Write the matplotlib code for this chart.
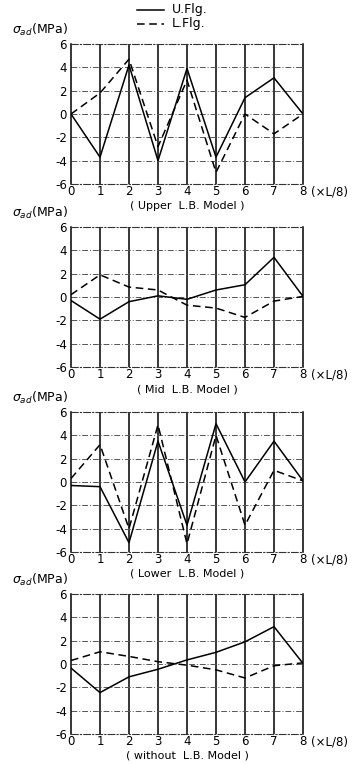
import matplotlib
matplotlib.use("Agg")
import matplotlib.pyplot as plt

x = [0, 1, 2, 3, 4, 5, 6, 7, 8]
x_ticklabels = ["0", "1", "2", "3", "4", "5", "6", "7", "8"]
y_ticks = [-6, -4, -2, 0, 2, 4, 6]
titles = ["( Upper  L.B. Model )", "( Mid  L.B. Model )",
          "( Lower  L.B. Model )", "( without  L.B. Model )"]

upper_u = [0, -3.7, 4.2, -4.0, 3.9, -3.7, 1.4, 3.1, 0.0]
upper_l = [0, 1.8, 4.7, -2.8, 2.9, -5.0, 0.0, -1.7, 0.0]

mid_u = [-0.3, -1.9, -0.4, 0.1, -0.2, 0.6, 1.05, 3.4, 0.05]
mid_l = [0.2, 1.9, 0.85, 0.6, -0.7, -0.95, -1.75, -0.35, 0.05]

lower_u = [-0.3, -0.4, -5.2, 3.5, -3.7, 5.0, 0.0, 3.5, 0.1]
lower_l = [0.3, 3.2, -4.0, 4.9, -5.3, 4.0, -3.7, 1.0, 0.1]

without_u = [-0.35, -2.45, -1.1, -0.45, 0.35, 1.0, 1.9, 3.2, 0.05]
without_l = [0.3, 1.05, 0.65, 0.2, -0.1, -0.5, -1.2, -0.15, 0.1]

series = [(upper_u, upper_l), (mid_u, mid_l), (lower_u, lower_l), (without_u, without_l)]

W, H = 358, 764
plt.rcParams['font.family'] = ['DejaVu Sans']
fig = plt.figure(figsize=(W / 100, H / 100), dpi=100)

tops = [44, 227, 412, 594]
sub_offsets = [162, 162, 162, 162]
left_px, width_px, height_px = 71, 232, 140
fs = 8.5
dashdot = (0, (6, 2, 1, 2))

for top, (u, l), title, so in zip(tops, series, titles, sub_offsets):
    ax = fig.add_axes([left_px / W, 1 - (top + height_px) / H, width_px / W, height_px / H])
    ax.set_xlim(0, 8)
    ax.set_ylim(-6, 6)
    for xv in x[1:-1]:
        ax.axvline(xv, color='black', lw=1.1, zorder=1)
    for yv in y_ticks[1:-1]:
        ax.axhline(yv, color='#555555', lw=0.7, ls=dashdot, zorder=1)
    ax.plot(x, u, color='black', lw=1.1, zorder=3)
    ax.plot(x, l, color='black', lw=1.1, ls=(0, (5, 3)), zorder=3)
    for side in ['top', 'bottom']:
        ax.spines[side].set_linestyle(dashdot)
        ax.spines[side].set_linewidth(0.8)
        ax.spines[side].set_color('#333333')
    ax.spines['left'].set_linewidth(1.1)
    ax.spines['right'].set_linewidth(1.1)
    ax.set_xticks(x)
    ax.set_xticklabels(x_ticklabels, fontsize=fs)
    ax.set_yticks(y_ticks)
    ax.set_yticklabels([str(v) for v in y_ticks], fontsize=fs)
    ax.tick_params(axis='x', length=0, pad=1)
    ax.tick_params(axis='y', length=0, pad=3)
    ax.annotate("(×L/8)", xy=(1, 0), xycoords='axes fraction', xytext=(6, -1),
                textcoords='offset points', fontsize=fs, ha='left', va='top')
    fig.text((left_px + width_px / 2) / W, 1 - (top + so) / H, title, fontsize=8,
             ha='center', va='center')
    fig.text(12 / W, 1 - (top - 14) / H, r"$\sigma_{ad}$(MPa)", fontsize=9,
             ha='left', va='center')

# legend
fig.add_artist(plt.Line2D([137 / W, 164 / W], [1 - 10 / H, 1 - 10 / H], color='black', lw=1.1))
fig.add_artist(plt.Line2D([137 / W, 164 / W], [1 - 24 / H, 1 - 24 / H], color='black', lw=1.1,
                          ls=(0, (5, 3))))
fig.text(172 / W, 1 - 9 / H, "U.Flg.", fontsize=9, va='center', ha='left')
fig.text(172 / W, 1 - 24 / H, "L.Flg.", fontsize=9, va='center', ha='left')

fig.savefig("out.png", dpi=100)
